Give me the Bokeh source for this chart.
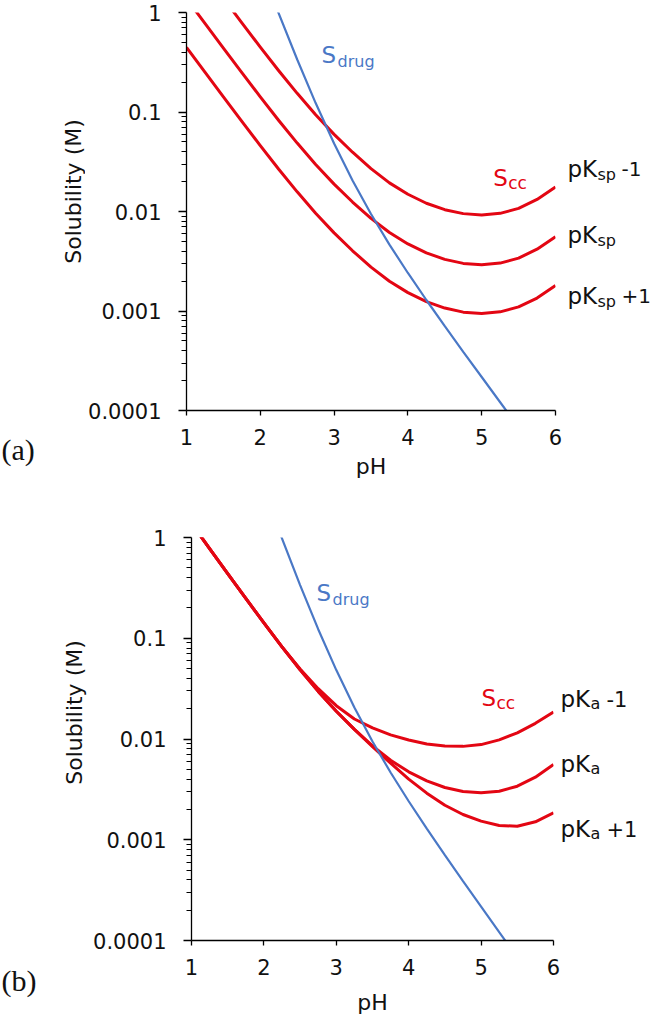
import math
from bokeh.plotting import figure
from bokeh.models import Label, FixedTicker, CustomJSTickFormatter, Range1d
from bokeh.layouts import column, row
from bokeh.embed import file_html
from bokeh.resources import INLINE

# ---------------- data ----------------
ph = [1.0, 1.25, 1.5, 1.75, 2.0, 2.25, 2.5, 2.75, 3.0, 3.25, 3.5,
      3.75, 4.0, 4.25, 4.5, 4.75, 5.0, 5.25, 5.5, 5.75, 6.0]

# drug solubility (blue), same in both panels
ph_drug = [2.2, 2.5, 2.75, 3.0, 3.25, 3.5, 3.75, 4.0, 4.25, 4.5, 4.75, 5.0, 5.25, 5.4]
s_drug = [1.21, 0.337, 0.123, 0.0483, 0.0205, 0.00945, 0.00465, 0.00241,
          0.00129, 0.000703, 0.000389, 0.000217, 0.000121, 0.0000855]

# panel (a): cocrystal solubility for pKsp-1, pKsp, pKsp+1
s_cc_pksp_minus1 = [4.37, 2.45, 1.39, 0.787, 0.449, 0.260, 0.154, 0.0939, 0.0596, 0.0394, 0.0270,
                    0.0194, 0.0149, 0.0121, 0.01043, 0.00952, 0.00923, 0.00958, 0.01075, 0.01322, 0.0176]
s_cc_pksp = [1.38, 0.776, 0.439, 0.249, 0.142, 0.0822, 0.0487, 0.0297, 0.01884, 0.01245, 0.00853,
             0.00615, 0.00472, 0.00384, 0.00330, 0.00301, 0.00292, 0.00303, 0.00340, 0.00418, 0.00557]
s_cc_pksp_plus1 = [0.447, 0.251, 0.142, 0.0806, 0.0460, 0.0266, 0.01576, 0.00961, 0.00610, 0.00403, 0.00276,
                   0.00199, 0.00153, 0.00124, 0.00107, 0.000974, 0.000945, 0.000981, 0.00110, 0.00135, 0.00180]

# panel (b): cocrystal solubility for pKa-1, pKa, pKa+1
s_cc_pka_minus1 = [1.38, 0.776, 0.439, 0.249, 0.142, 0.0822, 0.0495, 0.0316, 0.0214, 0.0158, 0.0129,
                   0.0110, 0.00977, 0.00891, 0.00851, 0.00845, 0.00880, 0.0098, 0.0115, 0.0143, 0.0185]
s_cc_pka = [1.38, 0.776, 0.439, 0.249, 0.142, 0.0822, 0.0487, 0.0297, 0.01884, 0.01245, 0.00853,
            0.00615, 0.00472, 0.00384, 0.00330, 0.00301, 0.00292, 0.00303, 0.00340, 0.00418, 0.00557]
s_cc_pka_plus1 = [1.38, 0.776, 0.439, 0.249, 0.142, 0.0822, 0.0487, 0.0297, 0.01884, 0.01245, 0.00840,
                  0.00575, 0.00400, 0.00290, 0.00220, 0.00178, 0.00153, 0.001387, 0.001361, 0.001507, 0.00185]

x_ticks = [1, 2, 3, 4, 5, 6]
y_ticks = [0.0001, 0.001, 0.01, 0.1, 1]

# ---------------- style ----------------
RED = "#E30613"
BLUE = "#4A78C6"
INK = "#111111"
FONT = "DejaVu Sans"
SERIF = "Liberation Serif"

minor = [m * 10.0 ** k for k in range(-4, 0) for m in range(2, 10)]


def add_text(p, x, y, text, size, color=INK, dx=0, dy=0, font=FONT,
             angle=0.0, align="left", baseline="alphabetic"):
    p.add_layout(Label(x=x, y=y, text=text, text_font=font, text_font_size=size,
                       text_color=color, x_offset=dx, y_offset=dy, angle=angle,
                       text_align=align, text_baseline=baseline))


def side_fig(w, h):
    """Blank helper canvas (pixel-like coordinates, y downwards) for texts beside a panel."""
    f = figure(width=w, height=h, x_range=Range1d(0, w), y_range=Range1d(h, 0),
               min_border=0, x_axis_location=None, y_axis_location=None,
               output_backend="svg", toolbar_location=None)
    f.frame_align = False
    f.outline_line_color = None
    f.grid.visible = False
    f.border_fill_color = "white"
    f.background_fill_color = "white"
    return f


def make_panel(fw, fh, bl, bt, bb, br, label_standoff):
    p = figure(y_axis_type="log", x_range=Range1d(1, 6), y_range=Range1d(0.0001, 1),
               frame_width=fw, frame_height=fh,
               min_border_left=bl, min_border_top=bt, min_border_bottom=bb, min_border_right=br,
               output_backend="svg", toolbar_location=None)
    p.frame_align = False
    p.outline_line_color = None
    p.grid.visible = False
    p.background_fill_color = "white"
    p.border_fill_color = "white"

    p.xaxis.ticker = FixedTicker(ticks=x_ticks)
    p.yaxis.ticker = FixedTicker(ticks=y_ticks, minor_ticks=minor)
    p.yaxis.formatter = CustomJSTickFormatter(code="return tick.toString();")

    for ax in (p.xaxis, p.yaxis):
        ax.axis_line_color = "#000000"
        ax.axis_line_width = 1.3
        ax.major_tick_line_color = "#000000"
        ax.major_tick_line_width = 1.3
        ax.major_tick_in = 0
        ax.major_label_text_font = FONT
        ax.major_label_text_font_size = "21px"
        ax.major_label_text_color = INK
    p.xaxis.major_tick_out = 5
    p.xaxis.minor_tick_line_color = None
    p.xaxis.major_label_standoff = 13
    p.xaxis.axis_label = "pH"
    p.xaxis.axis_label_text_font = FONT
    p.xaxis.axis_label_text_font_size = "22px"
    p.xaxis.axis_label_text_font_style = "normal"
    p.xaxis.axis_label_text_color = INK
    p.xaxis.axis_label_standoff = label_standoff

    p.yaxis.major_tick_out = 8
    p.yaxis.minor_tick_in = 0
    p.yaxis.minor_tick_out = 5
    p.yaxis.minor_tick_line_color = "#000000"
    p.yaxis.minor_tick_line_width = 1.0
    p.yaxis.major_label_standoff = 17
    return p


# ---------------- panel (a) ----------------
H_A = 488
p1 = make_panel(369, 398, 100, 12, H_A - 12 - 398, 10, 6)
for s in (s_cc_pksp_minus1, s_cc_pksp, s_cc_pksp_plus1):
    p1.line(ph, s, line_color=RED, line_width=3, line_join="round")
p1.line(ph_drug, s_drug, line_color=BLUE, line_width=2.2)
add_text(p1, 2.83, 0.37, "S", "23px", BLUE)
add_text(p1, 2.83, 0.37, "drug", "16px", BLUE, dx=16, dy=-6)
add_text(p1, 5.156, 0.0215, "S", "23px", RED)
add_text(p1, 5.156, 0.0215, "cc", "17px", RED, dx=15, dy=-5)

left_a = side_fig(85, H_A)
add_text(left_a, 73, 191, "Solubility (M)", "22px", angle=math.pi / 2,
         align="center", baseline="middle")
add_text(left_a, 1, 449, "(a)", "30px", font=SERIF)

right_a = side_fig(86, H_A)
for yb, tail in ((168, "-1"), (234, ""), (295, "+1")):
    add_text(right_a, 2, yb, "pK", "23px")
    add_text(right_a, 2, yb, "sp", "16px", dx=30, dy=-6)
    if tail:
        add_text(right_a, 2, yb, tail, "20px", dx=54)

# ---------------- panel (b) ----------------
H_B = 1020 - H_A
p2 = make_panel(362, 403, 100, 49, H_B - 49 - 403, 7, 12)
for s in (s_cc_pka_minus1, s_cc_pka, s_cc_pka_plus1):
    p2.line(ph, s, line_color=RED, line_width=3, line_join="round")
p2.line(ph_drug, s_drug, line_color=BLUE, line_width=2.2)
add_text(p2, 2.727, 0.28, "S", "23px", BLUE)
add_text(p2, 2.727, 0.28, "drug", "16px", BLUE, dx=16, dy=-6)
add_text(p2, 5.005, 0.0255, "S", "23px", RED)
add_text(p2, 5.005, 0.0255, "cc", "17px", RED, dx=15, dy=-5)

left_b = side_fig(90, H_B)
add_text(left_b, 74, 224, "Solubility (M)", "22px", angle=math.pi / 2,
         align="center", baseline="middle")
add_text(left_b, 1, 492, "(b)", "30px", font=SERIF)

right_b = side_fig(91, H_B)
for yb, tail in ((210, "-1"), (275, ""), (340, "+1")):
    add_text(right_b, 0, yb, "pK", "23px")
    add_text(right_b, 0, yb, "a", "16px", dx=30, dy=-5)
    if tail:
        add_text(right_b, 0, yb, tail, "21px", dx=46)

layout = column(row(left_a, p1, right_a, spacing=0),
                row(left_b, p2, right_b, spacing=0), spacing=0)

open("out.html", "w").write(file_html(layout, INLINE))
